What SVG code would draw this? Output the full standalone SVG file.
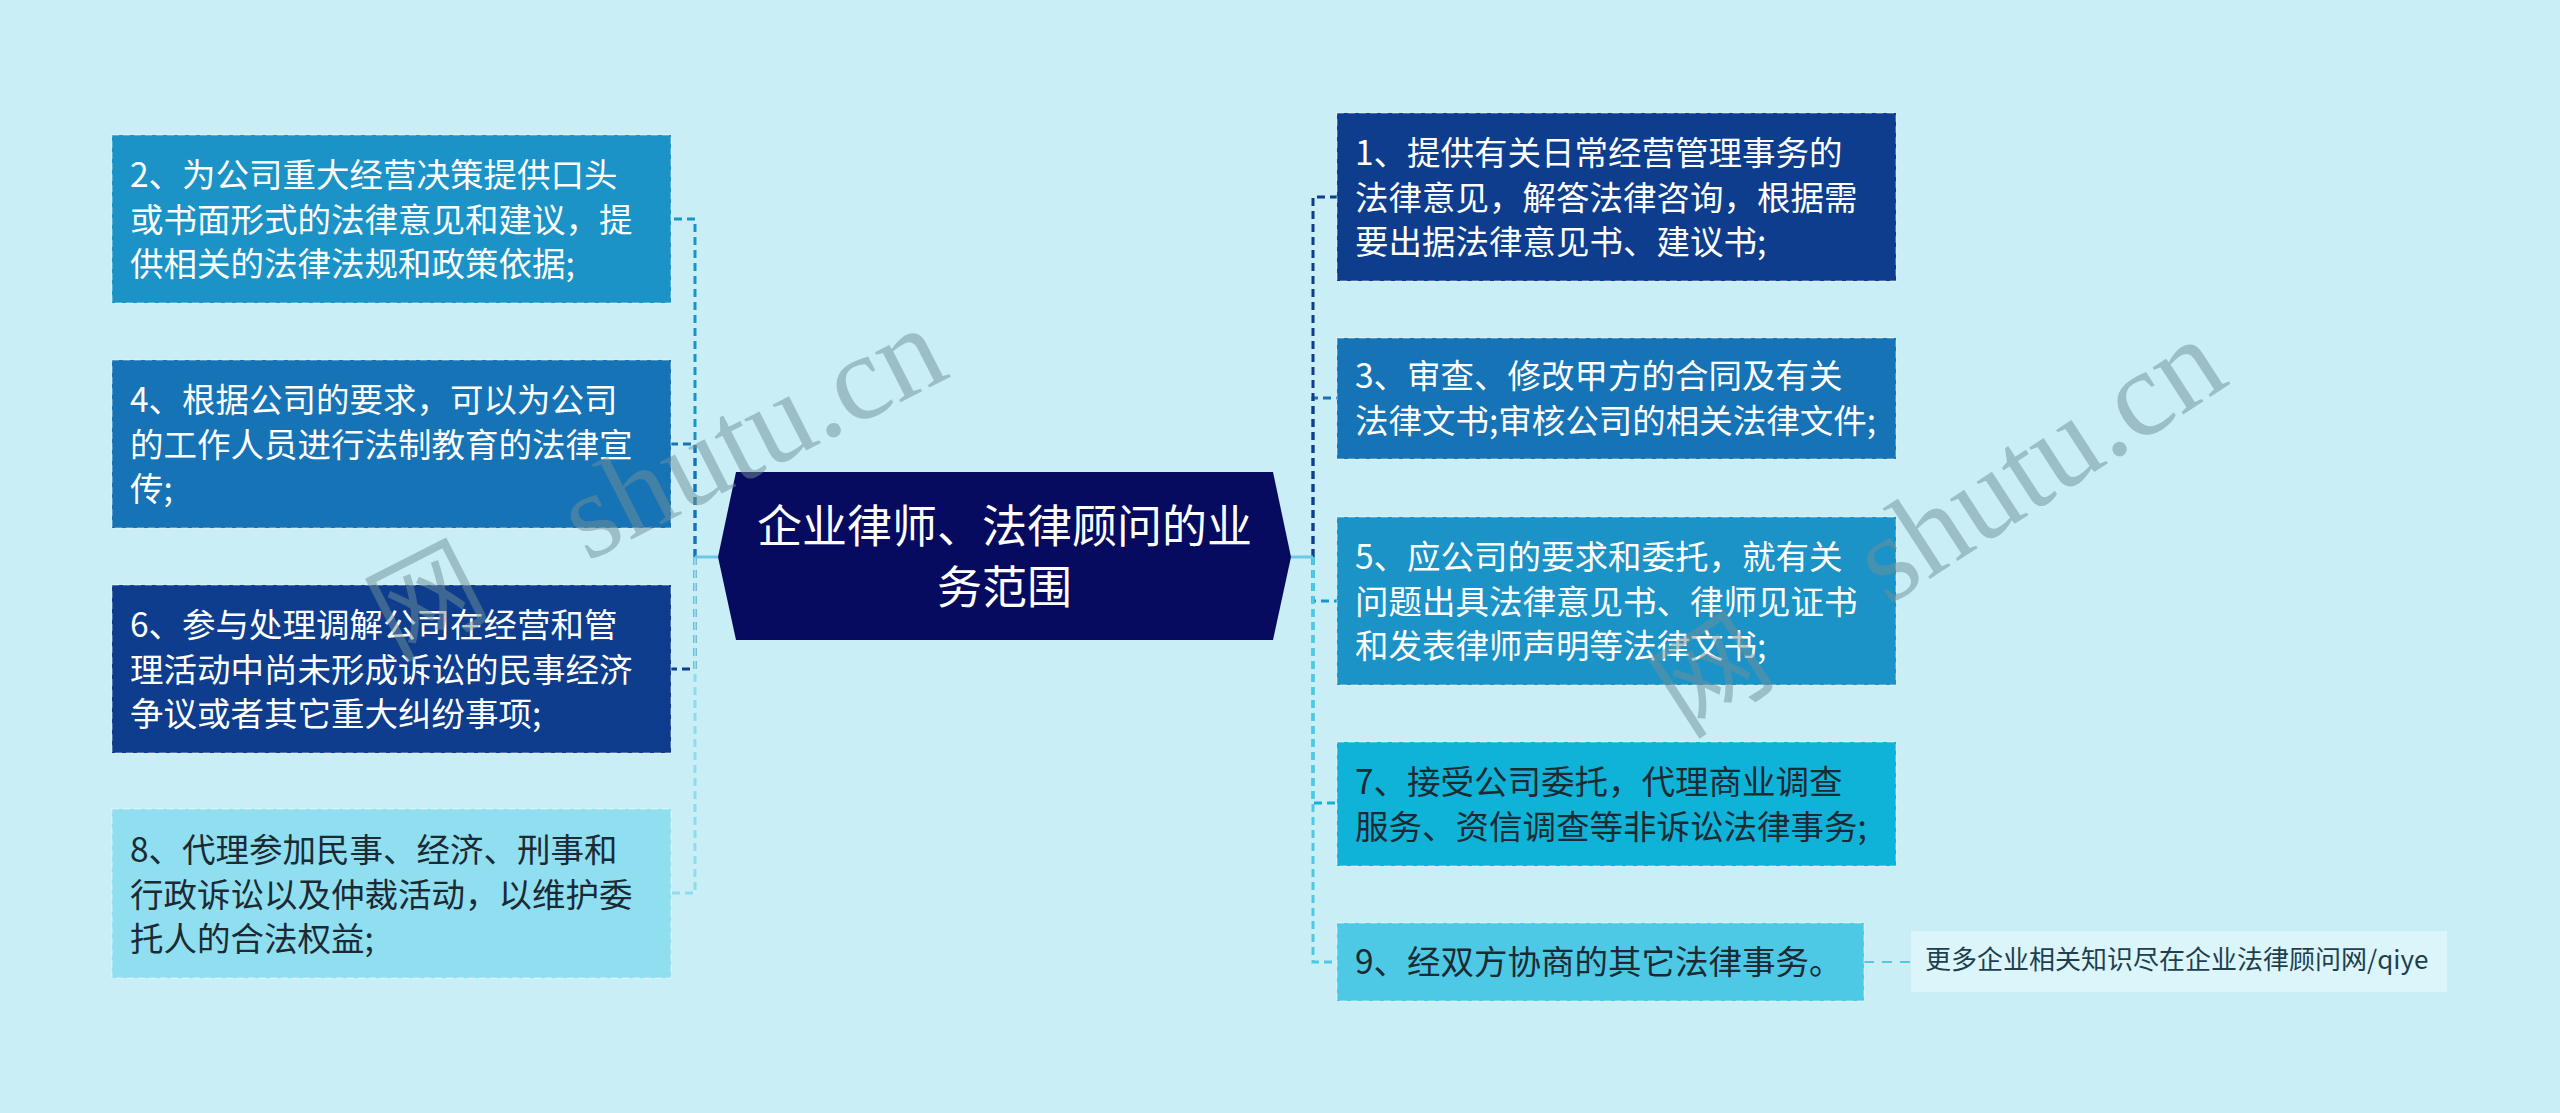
<svg xmlns="http://www.w3.org/2000/svg" width="2560" height="1113" viewBox="0 0 2560 1113">
<style>
.bg{fill:#c9eef6}
.box{stroke:#ffffff;stroke-opacity:0.28;stroke-width:2;stroke-dasharray:7 4}
.t{font-family:"Noto Sans CJK SC","Microsoft YaHei",sans-serif;font-size:33.5px}
.w{fill:#ffffff}
.d{fill:#1b2a33}
.ct{font-family:"Noto Sans CJK SC",sans-serif;font-size:45px;fill:#ffffff;text-anchor:middle}
.note{font-family:"Noto Sans CJK SC",sans-serif;font-size:26px;fill:#1d3f4f}
.c{fill:none;stroke-width:3;stroke-dasharray:8 5}
.stub{fill:none;stroke:#6cc8e4;stroke-width:3}
.wm{font-family:"Liberation Serif",serif;font-size:122px;fill:#6f8f97;fill-opacity:0.5}
</style>
<rect class="bg" x="0" y="0" width="2560" height="1113"/>

<g id="connectors">
  <path class="c" stroke="#1b93c7" d="M695 557 V219 H671"/>
  <path class="c" stroke="#1673b6" d="M695 557 V444 H671"/>
  <path class="c" stroke="#0d3d8c" d="M695 557 V669 H671"/>
  <path class="c" stroke="#8fdcee" d="M695 557 V893 H671"/>
  <path class="stub" d="M718 557 H695"/>
  <path class="c" stroke="#1673b6" d="M1313 557 V398 H1337"/>
  <path class="c" stroke="#0d3d8c" d="M1313 557 V197 H1337"/>
  <path class="c" stroke="#1b93c7" d="M1313 557 V601 H1337"/>
  <path class="c" stroke="#10b3d8" d="M1313 557 V803 H1337"/>
  <path class="c" stroke="#4dc9e5" d="M1313 557 V962 H1337"/>
  <path class="stub" d="M1291 557 H1313"/>
  <path fill="none" stroke="#5ac5e2" stroke-width="2" stroke-dasharray="10 8" d="M1864 962 H1911"/>
</g>

<g id="center">
  <polygon points="718,557 736,472 1273,472 1291,557 1273,640 736,640" fill="#060b5f"/>
  <text class="ct" x="1004.5" y="543">企业律师、法律顾问的业</text>
  <text class="ct" x="1004.5" y="604">务范围</text>
</g>

<g id="n2">
  <rect class="box" x="112" y="135" width="559" height="168" fill="#1b93c7"/>
  <text class="t w" x="130"><tspan x="130" y="187">2、为公司重大经营决策提供口头</tspan><tspan x="130" y="231.5">或书面形式的法律意见和建议，提</tspan><tspan x="130" y="276">供相关的法律法规和政策依据;</tspan></text>
</g>
<g id="n4">
  <rect class="box" x="112" y="360" width="559" height="168" fill="#1673b6"/>
  <text class="t w"><tspan x="130" y="412">4、根据公司的要求，可以为公司</tspan><tspan x="130" y="456.5">的工作人员进行法制教育的法律宣</tspan><tspan x="130" y="501">传;</tspan></text>
</g>
<g id="n6">
  <rect class="box" x="112" y="585" width="559" height="168" fill="#0d3d8c"/>
  <text class="t w"><tspan x="130" y="637">6、参与处理调解公司在经营和管</tspan><tspan x="130" y="681.5">理活动中尚未形成诉讼的民事经济</tspan><tspan x="130" y="726">争议或者其它重大纠纷事项;</tspan></text>
</g>
<g id="n8">
  <rect class="box" x="112" y="809" width="559" height="169" fill="#90dff0"/>
  <text class="t d"><tspan x="130" y="862">8、代理参加民事、经济、刑事和</tspan><tspan x="130" y="906.5">行政诉讼以及仲裁活动，以维护委</tspan><tspan x="130" y="951">托人的合法权益;</tspan></text>
</g>

<g id="n1">
  <rect class="box" x="1337" y="113" width="559" height="168" fill="#0d3d8c"/>
  <text class="t w"><tspan x="1355" y="165">1、提供有关日常经营管理事务的</tspan><tspan x="1355" y="209.5">法律意见，解答法律咨询，根据需</tspan><tspan x="1355" y="254">要出据法律意见书、建议书;</tspan></text>
</g>
<g id="n3">
  <rect class="box" x="1337" y="338" width="559" height="121" fill="#1673b6"/>
  <text class="t w"><tspan x="1355" y="388">3、审查、修改甲方的合同及有关</tspan><tspan x="1355" y="432.5">法律文书;审核公司的相关法律文件;</tspan></text>
</g>
<g id="n5">
  <rect class="box" x="1337" y="517" width="559" height="168" fill="#1b93c7"/>
  <text class="t w"><tspan x="1355" y="569">5、应公司的要求和委托，就有关</tspan><tspan x="1355" y="613.5">问题出具法律意见书、律师见证书</tspan><tspan x="1355" y="658">和发表律师声明等法律文书;</tspan></text>
</g>
<g id="n7">
  <rect class="box" x="1337" y="742" width="559" height="124" fill="#10b3d8"/>
  <text class="t d"><tspan x="1355" y="794">7、接受公司委托，代理商业调查</tspan><tspan x="1355" y="838.5">服务、资信调查等非诉讼法律事务;</tspan></text>
</g>
<g id="n9">
  <rect class="box" x="1337" y="923" width="527" height="78" fill="#4dc9e5"/>
  <text class="t d" x="1355" y="974">9、经双方协商的其它法律事务。</text>
</g>

<g id="note">
  <rect x="1911" y="931" width="536" height="61" fill="#dcf5fa"/>
  <text class="note" x="1925" y="969">更多企业相关知识尽在企业法律顾问网/qiye</text>
</g>

<g id="watermarks">
  <text class="wm" transform="translate(587,562) rotate(-27)"><tspan x="-215" font-family="Noto Sans CJK SC,serif" font-size="110">网</tspan><tspan x="0">shutu.cn</tspan></text>
  <text class="wm" transform="translate(1888,606) rotate(-33)"><tspan x="-240" font-family="Noto Sans CJK SC,serif" font-size="110">网</tspan><tspan x="0">shutu.cn</tspan></text>
</g>
</svg>
